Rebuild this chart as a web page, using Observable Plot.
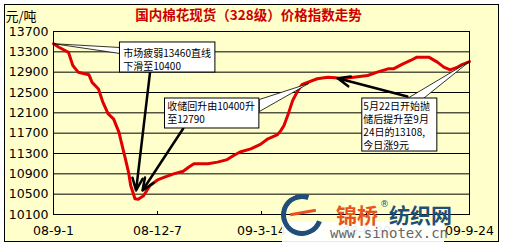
<!DOCTYPE html>
<html><head><meta charset="utf-8">
<script src="https://cdn.jsdelivr.net/npm/d3@7"></script>
<script src="https://cdn.jsdelivr.net/npm/@observablehq/plot@0.6"></script>
<style>
body{margin:0;background:#fff}
#wrap{position:relative;width:505px;height:247px;overflow:hidden;background:#fff}
#outer{position:absolute;left:4px;top:4px;width:493px;height:236px;border:1px solid #000;background:#FFFFCC}
#chart{position:absolute;left:0;top:0}
.wm{position:absolute;white-space:nowrap;line-height:1}
</style></head>
<body>
<div id="wrap">
<div id="outer"></div>
<div id="chart"></div>
<div class="wm" style="left:282px;top:222px;width:162px;height:25px;background:#fff;opacity:0.92"></div>
<div class="wm" style="left:281px;top:194px;width:32px;height:32px;border:5px solid #1f4e79;border-right-color:transparent;border-radius:50%;transform:rotate(-25deg)"></div>
<div class="wm" style="left:290px;top:211px;width:26px;height:3px;background:#e8501e;transform:rotate(-10deg)"></div>
<div class="wm" style="left:336px;top:199px;font:bold 21px 'Noto Sans CJK SC';color:#e8521f">锦桥</div>
<div class="wm" style="left:380px;top:199px;font:9px 'DejaVu Sans';color:#1f4e79">®</div>
<div class="wm" style="left:389px;top:199px;font:bold 21px 'Noto Sans CJK SC';color:#1f4e79">纺织网</div>
<div class="wm" style="left:330px;top:225px;font:14px 'DejaVu Sans Mono';color:#666">www.sinotex.cn</div>
</div>
<script>
const dates = ["2008-09-01","2008-09-06","2008-09-15","2008-09-19","2008-09-24","2008-10-04","2008-10-07","2008-10-13","2008-10-17","2008-10-22","2008-10-27","2008-11-01","2008-11-07","2008-11-10","2008-11-12","2008-11-16","2008-11-19","2008-11-24","2008-11-30","2008-12-07","2008-12-13","2008-12-22","2008-12-31","2009-01-05","2009-01-10","2009-01-23","2009-02-01","2009-02-10","2009-02-16","2009-02-22","2009-03-04","2009-03-13","2009-03-20","2009-03-29","2009-04-01","2009-04-04","2009-04-08","2009-04-12","2009-04-17","2009-04-21","2009-04-26","2009-05-05","2009-05-15","2009-05-22","2009-05-27","2009-06-08","2009-06-21","2009-06-30","2009-07-10","2009-07-15","2009-07-24","2009-07-31","2009-08-06","2009-08-17","2009-08-25","2009-08-31","2009-09-06","2009-09-13","2009-09-17","2009-09-24"];
const prices = [13460,13390,13290,13030,12900,12850,12700,12570,12310,12080,11980,11720,11200,10930,10670,10410,10400,10470,10670,10780,10830,10900,10950,11030,11100,11100,11130,11180,11260,11330,11390,11480,11590,11670,11750,11850,12080,12340,12540,12660,12700,12770,12800,12790,12770,12800,12835,12900,12966,12966,13064,13130,13195,13195,13097,13000,12946,13000,13050,13108];
const yTicks = [10100,10500,10900,11300,11700,12100,12500,12900,13300,13700];
const xTickDates = ["2008-09-01","2008-12-07","2009-03-14","2009-06-20","2009-09-24"];
const xTickLabels = ["08-9-1","08-12-7","09-3-14","09-6-20","09-9-24"];
const titleText = "国内棉花现货（328级）价格指数走势";
const unitText = "元/吨";

// annotation boxes (data space)
const noteText = ["市场疲弱13460直线\n下滑至10400","收储回升由10400升\n至12790","5月22日开始抛\n储后提升至9月\n24日的13108,\n今日涨9元"];
const boxX1 = ["2008-11-02","2008-12-14","2009-06-16"];
const boxX2 = ["2009-01-30","2009-03-12","2009-08-25"];
const boxYLow = [12893,11792,11339];
const boxYHigh = [13484,12382,12382];
const noteX = ["2008-11-05","2008-12-16","2009-06-17"];
const noteY = [13385,12343,12343];
// callout wedges
const wedgeId = [1,1,1,1,2,2,2,2,3,3,3,3];
const wedgeDate = ["2008-09-01","2008-11-02","2008-11-02","2008-09-01","2009-04-27","2009-03-12","2009-03-12","2009-04-27","2009-09-24","2009-07-28","2009-08-12","2009-09-24"];
const wedgeVal = [13460,13385,13267,13460,12677,12362,12126,12677,13110,12382,12382,13110];
// thick arrows
const arrFromDate = ["2008-11-30","2008-12-31","2009-07-28"];
const arrFromVal = [12893,11792,12421];
const arrToDate = ["2008-11-17","2008-11-23","2009-05-24"];
const arrToVal = [10572,10572,12780];

const D = s => new Date(s);
const series = dates.map((d,i)=>({date:D(d), price:prices[i]}));
const boxes = noteText.map((t,i)=>({x1:D(boxX1[i]),x2:D(boxX2[i]),y1:boxYLow[i],y2:boxYHigh[i],tx:D(noteX[i]),ty:noteY[i],text:t}));
const wedges = wedgeId.map((id,i)=>({id, date:D(wedgeDate[i]), v:wedgeVal[i]}));
const arrows = arrFromDate.map((d,i)=>({x1:D(d),y1:arrFromVal[i],x2:D(arrToDate[i]),y2:arrToVal[i]}));
const xt = xTickDates.map(D);
const labelMap = new Map(xt.map((d,i)=>[+d, xTickLabels[i]]));

const chart = Plot.plot({
  width:505, height:247,
  marginLeft:53, marginRight:36, marginTop:31, marginBottom:33,
  style:{background:"transparent", fontFamily:"'DejaVu Sans', sans-serif", fontSize:"12.5px", color:"#000", overflow:"visible"},
  x:{type:"utc", domain:[xt[0], xt[xt.length-1]]},
  y:{domain:[yTicks[0], yTicks[yTicks.length-1]]},
  marks:[
    Plot.frame({fill:"#FFFFCC", stroke:"none"}),
    Plot.gridY(yTicks, {stroke:"#000", strokeOpacity:1, strokeWidth:1}),
    Plot.axisY(yTicks, {tickSize:0, tickPadding:5, label:null, fill:"#000", tickFormat:d=>String(d)}),
    Plot.axisX(xt, {tickSize:0, tickPadding:12, label:null, tickFormat:d=>labelMap.get(+d), fill:"#000"}),
    Plot.ruleX(xt.slice(1,-1), {y1:yTicks[0], y2:10160, stroke:"#000"}),
    Plot.line(series, {x:"date", y:"price", stroke:"#e00000", strokeWidth:3}),
    Plot.line(wedges, {x:"date", y:"v", z:"id", fill:"#fff", stroke:"#000", strokeWidth:0.8}),
    Plot.arrow(arrows, {x1:"x1", y1:"y1", x2:"x2", y2:"y2", stroke:"#000", strokeWidth:2.5, headLength:8, headAngle:45}),
    Plot.rect(boxes, {x1:"x1", x2:"x2", y1:"y1", y2:"y2", fill:"#fff", stroke:"#000", strokeWidth:1}),
    Plot.text(boxes, {x:"tx", y:"ty", text:"text", textAnchor:"start", lineAnchor:"top", fontSize:10, lineHeight:1.3, fontFamily:"'Noto Sans CJK SC'", fill:"#000"}),
    Plot.frame({stroke:"#000", strokeWidth:1}),
    Plot.text([titleText], {frameAnchor:"top", dx:-13, dy:-16, lineAnchor:"middle", fontFamily:"'Noto Sans CJK SC'", fontWeight:"bold", fontSize:13.5, fill:"#cc0000"}),
    Plot.text([unitText], {frameAnchor:"top-left", dx:-48, dy:-15, textAnchor:"start", lineAnchor:"middle", fontFamily:"'Noto Sans CJK SC'", fontSize:13, fill:"#000"})
  ]
});
document.getElementById("chart").appendChild(chart);
</script>
</body></html>
